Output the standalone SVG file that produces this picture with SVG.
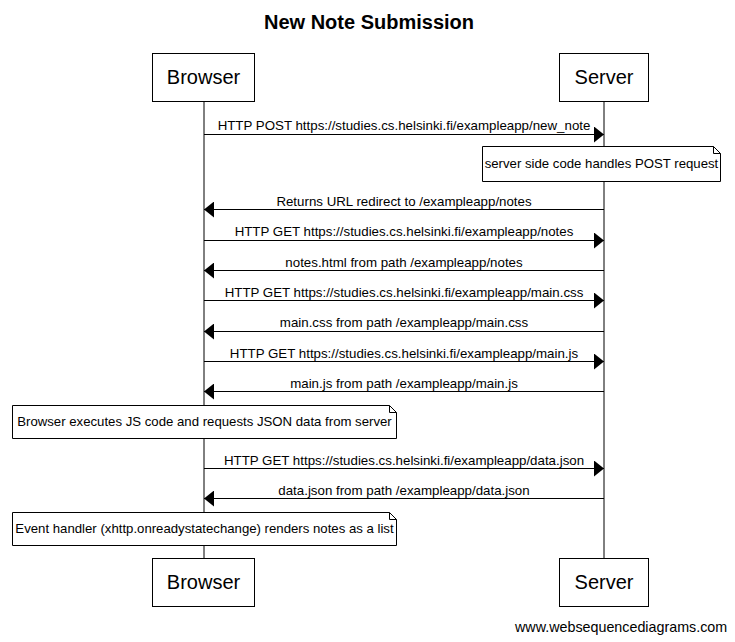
<svg xmlns="http://www.w3.org/2000/svg" width="735" height="642" viewBox="0 0 735 642">
<style>
text{font-family:"Liberation Sans",Arial,sans-serif;fill:#000}
.title{font-size:20px;font-weight:bold;text-anchor:middle}
.part rect{fill:#fff;stroke:#000;stroke-width:1}
.part text{font-size:20px;text-anchor:middle}
.life{stroke:#000;stroke-width:1}
.msg line{stroke:#000;stroke-width:1;marker-end:url(#ah)}
.msg text{font-size:13.3px;text-anchor:middle}
.note path{fill:#fff;stroke:#000;stroke-width:1}
.note text{font-size:13.2px;text-anchor:middle}
.wm{font-size:14.3px}
</style>
<defs>
<marker id="ah" viewBox="0 0 10 16" refX="10" refY="8" markerWidth="10" markerHeight="16" markerUnits="userSpaceOnUse" orient="auto">
<path d="M0,0 L10,8 L0,16 z" fill="#000"/>
</marker>
</defs>
<rect width="735" height="642" fill="#fff"/>
<text class="title" x="369" y="29">New Note Submission</text>
<g id="lifelines">
<line class="life" x1="204" y1="102" x2="204" y2="558"/>
<line class="life" x1="604" y1="102" x2="604" y2="558"/>
</g>
<g id="browser-top" class="part"><rect x="152.5" y="53.5" width="102" height="48"/><text x="203.5" y="84">Browser</text></g>
<g id="server-top" class="part"><rect x="559.5" y="53.5" width="89" height="48"/><text x="604" y="84">Server</text></g>
<g id="browser-bottom" class="part"><rect x="152.5" y="558.5" width="102" height="48"/><text x="203.5" y="589">Browser</text></g>
<g id="server-bottom" class="part"><rect x="559.5" y="558.5" width="89" height="48"/><text x="604" y="589">Server</text></g>
<g id="connectors" class="msg">
<line x1="204" y1="134.5" x2="604" y2="134.5"/><text x="404" y="130">HTTP POST https://studies.cs.helsinki.fi/exampleapp/new_note</text>
<line x1="604" y1="209.5" x2="204" y2="209.5"/><text x="404" y="206">Returns URL redirect to /exampleapp/notes</text>
<line x1="204" y1="240.5" x2="604" y2="240.5"/><text x="404" y="236">HTTP GET https://studies.cs.helsinki.fi/exampleapp/notes</text>
<line x1="604" y1="270.5" x2="204" y2="270.5"/><text x="404" y="267">notes.html from path /exampleapp/notes</text>
<line x1="204" y1="300.5" x2="604" y2="300.5"/><text x="404" y="297">HTTP GET https://studies.cs.helsinki.fi/exampleapp/main.css</text>
<line x1="604" y1="331.5" x2="204" y2="331.5"/><text x="404" y="327">main.css from path /exampleapp/main.css</text>
<line x1="204" y1="361.5" x2="604" y2="361.5"/><text x="404" y="358">HTTP GET https://studies.cs.helsinki.fi/exampleapp/main.js</text>
<line x1="604" y1="391.5" x2="204" y2="391.5"/><text x="404" y="388">main.js from path /exampleapp/main.js</text>
<line x1="204" y1="468.5" x2="604" y2="468.5"/><text x="404" y="465">HTTP GET https://studies.cs.helsinki.fi/exampleapp/data.json</text>
<line x1="604" y1="498.5" x2="204" y2="498.5"/><text x="404" y="495">data.json from path /exampleapp/data.json</text>
</g>
<g id="note-server" class="note"><path d="M482.5,146.5 H713.5 L720.5,153.5 V181.5 H482.5 Z M713.5,146.5 V153.5 H720.5"/><text x="601.5" y="168">server side code handles POST request</text></g>
<g id="note-browser-js" class="note"><path d="M12.5,405.5 H389.5 L396.5,412.5 V438.5 H12.5 Z M389.5,405.5 V412.5 H396.5"/><text x="204.5" y="426">Browser executes JS code and requests JSON data from server</text></g>
<g id="note-browser-render" class="note"><path d="M12.5,512.5 H389.5 L396.5,519.5 V545.5 H12.5 Z M389.5,512.5 V519.5 H396.5"/><text x="204.5" y="533">Event handler (xhttp.onreadystatechange) renders notes as a list</text></g>
<text class="wm" x="515" y="632">www.websequencediagrams.com</text>
</svg>
